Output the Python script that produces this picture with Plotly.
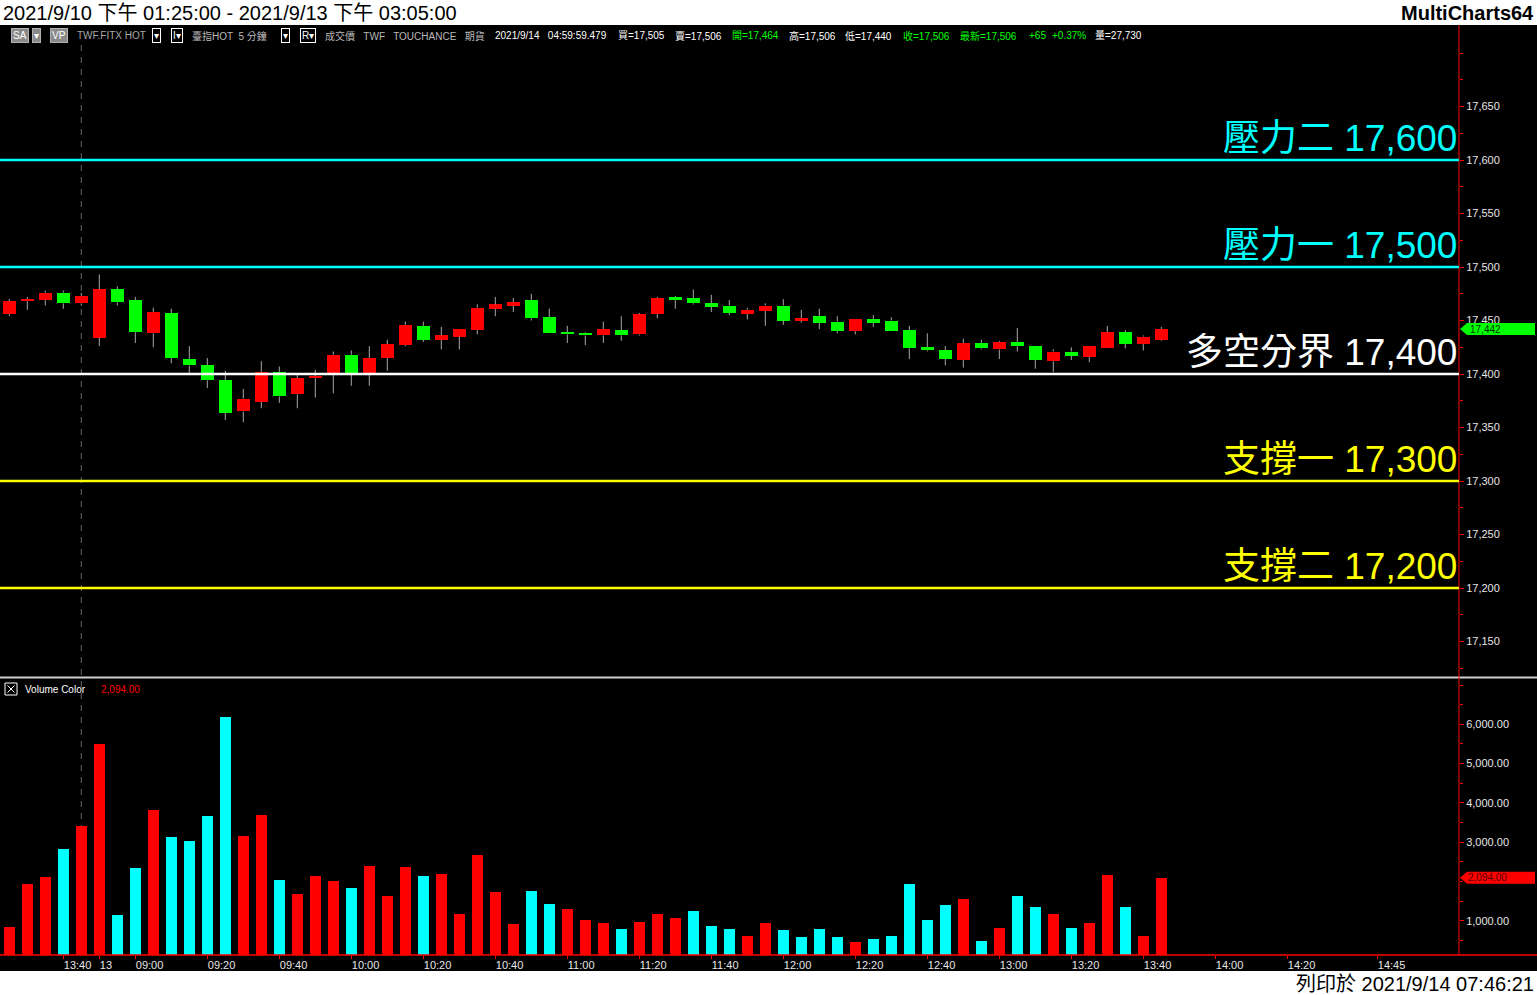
import plotly.graph_objects as go

# ---------------- data ----------------
opens = [17456, 17468, 17469, 17476, 17466, 17434, 17479, 17469, 17438, 17457,
         17414, 17408, 17394, 17365, 17374, 17402, 17381, 17396, 17401, 17418,
         17401, 17415, 17427, 17445, 17432, 17435, 17441, 17461, 17464, 17469,
         17453, 17439, 17438, 17436, 17441, 17437, 17456, 17472, 17471, 17466,
         17464, 17456, 17459, 17464, 17450, 17454, 17449, 17440, 17451, 17450,
         17441, 17425, 17422, 17413, 17429, 17423, 17430, 17426, 17412, 17421,
         17416, 17424, 17439, 17428, 17432]
highs = [17470, 17472, 17478, 17478, 17476, 17493, 17482, 17472, 17462, 17461,
         17426, 17415, 17403, 17386, 17412, 17407, 17399, 17404, 17421, 17422,
         17426, 17432, 17449, 17449, 17444, 17442, 17465, 17472, 17471, 17475,
         17461, 17445, 17439, 17449, 17454, 17457, 17472, 17473, 17479, 17474,
         17469, 17462, 17466, 17470, 17460, 17461, 17454, 17451, 17455, 17453,
         17445, 17438, 17426, 17433, 17432, 17431, 17443, 17426, 17423, 17425,
         17426, 17445, 17441, 17436, 17444]
lows = [17454, 17460, 17464, 17461, 17464, 17426, 17464, 17429, 17425, 17410,
        17401, 17387, 17357, 17355, 17368, 17373, 17368, 17378, 17382, 17389,
        17389, 17403, 17426, 17430, 17423, 17423, 17437, 17454, 17458, 17450,
        17438, 17429, 17427, 17429, 17431, 17436, 17452, 17461, 17465, 17458,
        17455, 17451, 17445, 17446, 17448, 17442, 17438, 17437, 17444, 17440,
        17414, 17421, 17408, 17406, 17423, 17414, 17421, 17405, 17402, 17413,
        17411, 17424, 17424, 17422, 17431]
closes = [17468, 17470, 17476, 17466, 17473, 17479, 17467, 17439, 17458, 17415,
          17408, 17394, 17364, 17377, 17402, 17379, 17396, 17398, 17418, 17401,
          17415, 17428, 17446, 17432, 17436, 17442, 17462, 17465, 17467, 17452,
          17438, 17437, 17436, 17442, 17436, 17456, 17471, 17469, 17466, 17463,
          17457, 17460, 17464, 17450, 17452, 17448, 17440, 17451, 17448, 17440,
          17424, 17422, 17414, 17429, 17424, 17430, 17426, 17413, 17421, 17417,
          17426, 17439, 17428, 17435, 17442]
volumes = [840, 1934, 2113, 2826, 3411, 5499, 1145, 2342, 3818, 3131,
           3029, 3666, 6186, 3156, 3691, 2036, 1680, 2138, 2011, 1833,
           2393, 1629, 2367, 2138, 2189, 1170, 2673, 1731, 916, 1756,
           1425, 1297, 1018, 941, 789, 967, 1170, 1069, 1247, 865,
           789, 611, 941, 763, 585, 789, 585, 458, 534, 611,
           1934, 1018, 1400, 1553, 483, 814, 1629, 1349, 1170, 814,
           941, 2164, 1349, 611, 2094]
volume_dir = ["up", "up", "up", "dn", "up", "up", "dn", "dn", "up", "dn",
              "dn", "dn", "dn", "up", "up", "dn", "up", "up", "up", "dn",
              "up", "up", "up", "dn", "up", "up", "up", "up", "up", "dn",
              "dn", "up", "up", "up", "dn", "up", "up", "up", "dn", "dn",
              "dn", "up", "up", "dn", "dn", "dn", "dn", "up", "dn", "dn",
              "dn", "dn", "dn", "up", "dn", "up", "dn", "dn", "up", "dn",
              "up", "up", "dn", "up", "up"]
session_break_index = 4           # last bar of 2021/9/10

x_tick_index = [3, 5, 7, 11, 15, 19, 23, 27, 31, 35, 39, 43, 47, 51, 55, 59, 63, 67, 71, 76]
x_tick_text = ["13:40", "13", "09:00", "09:20", "09:40", "10:00", "10:20", "10:40", "11:00",
               "11:20", "11:40", "12:00", "12:20", "12:40", "13:00", "13:20", "13:40",
               "14:00", "14:20", "14:45"]

price_ticks = [17150, 17200, 17250, 17300, 17350, 17400, 17450, 17500, 17550, 17600, 17650]
volume_ticks = [1000, 2000, 3000, 4000, 5000, 6000]

level_names = ["壓力二", "壓力一", "多空分界", "支撐一", "支撐二"]
level_values = [17600, 17500, 17400, 17300, 17200]
level_colors = ["#00ffff", "#00ffff", "#ffffff", "#ffff00", "#ffff00"]

title_text = "2021/9/10 下午 01:25:00 - 2021/9/13 下午 03:05:00"
brand_text = "MultiCharts64"
print_text = "列印於 2021/9/14 07:46:21"

# info line: (text, left px, color, style)
info_items = [
    ("SA", 11, "#ffffff", "grey"), ("▾", 32, "#ffffff", "grey"), ("VP", 50, "#ffffff", "grey"),
    ("TWF.FITX HOT", 75, "#a8a8a8", None), ("▾", 152, "#ffffff", "box"), ("I▾", 171, "#ffffff", "box"),
    ("臺指HOT  5 分鐘", 190, "#b8b8b8", None), ("▾", 281, "#ffffff", "box"), ("R▾", 300, "#ffffff", "box"),
    ("成交價   TWF   TOUCHANCE   期貨", 323, "#b8b8b8", None),
    ("2021/9/14   04:59:59.479", 493, "#ffffff", None),
    ("買=17,505", 616, "#ffffff", None), ("賣=17,506", 673, "#ffffff", None),
    ("開=17,464", 730, "#00ff00", None), ("高=17,506", 787, "#ffffff", None),
    ("低=17,440", 843, "#ffffff", None), ("收=17,506", 901, "#00ff00", None),
    ("最新=17,506", 958, "#00ff00", None), ("+65", 1027, "#00ff00", None),
    ("+0.37%", 1050, "#00ff00", None), ("量=27,730", 1093, "#ffffff", None),
]

# ---------------- layout geometry (pixels) ----------------
W, H = 1537, 995
PLOT_R = 1459
TOP, BOT = 27, 955
PRICE_BOT_PX = 677
VOL_TOP_PX = 680
BAR_PX, BAR0_PX = 18.0, 9.3


def px_x(px):
    return px / PLOT_R


def px_y(py):
    return (BOT - py) / (BOT - TOP)


# axis calibration from tick label positions
def price_at(py):
    return 17400 + (374 - py) / 1.07


def vol_at(py):
    return 1000 + (920.7 - py) * 25.46


price_range = [price_at(PRICE_BOT_PX), price_at(TOP)]
vol_range = [vol_at(BOT), vol_at(VOL_TOP_PX)]
x_range = [(0 - BAR0_PX) / BAR_PX, (PLOT_R - BAR0_PX) / BAR_PX]

RED, GREEN, CYAN = "#ff0000", "#00ff00", "#00ffff"
FONT = "Liberation Sans, Arial, Noto Sans CJK TC, sans-serif"

n = len(closes)
xs = list(range(n))

# wicks (upper and lower segments, so bodies are not overlapped)
wx, wy = [], []
for i in xs:
    top = max(opens[i], closes[i])
    bot = min(opens[i], closes[i])
    wx += [i, i, None, i, i, None]
    wy += [highs[i], top, None, bot, lows[i], None]

body_base = [min(o, c) for o, c in zip(opens, closes)]
body_len = [max(abs(c - o), 1.6) for o, c in zip(opens, closes)]
body_col = [RED if c >= o else GREEN for o, c in zip(opens, closes)]
vol_col = [RED if d == "up" else CYAN for d in volume_dir]

last_p = closes[-1]
last_v = volumes[-1]
# the last-volume marker covers the neighbouring tick label (as in the reference)
vol_tick_shown = [t for t in volume_ticks if abs(t - last_v) > 300]

fig = go.Figure()
fig.add_trace(go.Scatter(x=wx, y=wy, mode="lines", line=dict(color="#a8a8a8", width=1),
                         hoverinfo="skip", xaxis="x", yaxis="y"))
fig.add_trace(go.Bar(x=xs, y=body_len, base=body_base, width=0.72,
                     marker=dict(color=body_col, line=dict(width=0)), xaxis="x", yaxis="y"))
fig.add_trace(go.Bar(x=xs, y=volumes, width=0.61,
                     marker=dict(color=vol_col, line=dict(width=0)), xaxis="x2", yaxis="y2"))

axis_font = dict(family=FONT, size=11, color="#e6e6e6")

fig.update_layout(
    width=W, height=H,
    margin=dict(l=0, r=W - PLOT_R, t=TOP, b=H - BOT, pad=0),
    paper_bgcolor="black", plot_bgcolor="black",
    showlegend=False, bargap=0, barmode="overlay",
    xaxis=dict(domain=[0, 1], range=x_range, anchor="y", showticklabels=False,
               showgrid=False, zeroline=False, ticks="", showline=False),
    xaxis2=dict(domain=[0, 1], range=x_range, anchor="y2", matches="x",
                tickmode="array", tickvals=x_tick_index, ticktext=x_tick_text,
                ticks="outside", ticklen=3, tickcolor=RED, tickwidth=1,
                ticklabelposition="outside right", tickfont=axis_font,
                showgrid=False, zeroline=False, showline=False),
    yaxis=dict(domain=[px_y(PRICE_BOT_PX), 1], range=price_range, side="right", anchor="x",
               tickmode="array", tickvals=price_ticks, tickformat=",d",
               ticks="outside", ticklen=4, tickcolor=RED, tickfont=axis_font,
               minor=dict(dtick=25, tick0=17125, ticks="outside", ticklen=3, tickcolor=RED),
               showgrid=False, zeroline=False, showline=False),
    yaxis2=dict(domain=[0, px_y(VOL_TOP_PX)], range=vol_range, side="right", anchor="x2",
                tickmode="array", tickvals=vol_tick_shown, tickformat=",.2f",
                ticks="outside", ticklen=4, tickcolor=RED, tickfont=axis_font,
                minor=dict(dtick=500, tick0=0, ticks="outside", ticklen=3, tickcolor=RED),
                showgrid=False, zeroline=False, showline=False),
)

shapes = []
# session break dashed line
shapes.append(dict(type="line", xref="x", yref="paper", x0=session_break_index, x1=session_break_index,
                   y0=px_y(45), y1=0, line=dict(color="#6a6a6a", width=1, dash="6px,6px"), layer="below"))
# header / footer white bands
shapes.append(dict(type="rect", xref="paper", yref="paper", x0=px_x(0), x1=px_x(W), y0=px_y(0), y1=px_y(25),
                   fillcolor="white", line=dict(width=0), layer="above"))
shapes.append(dict(type="rect", xref="paper", yref="paper", x0=px_x(0), x1=px_x(W), y0=px_y(971), y1=px_y(H),
                   fillcolor="white", line=dict(width=0), layer="above"))
# panel separator
shapes.append(dict(type="line", xref="paper", yref="paper", x0=px_x(0), x1=px_x(W),
                   y0=px_y(677.5), y1=px_y(677.5), line=dict(color="#d0d0d0", width=2), layer="above"))
# right axis line and bottom axis line
shapes.append(dict(type="line", xref="paper", yref="paper", x0=1, x1=1, y0=0, y1=px_y(25),
                   line=dict(color=RED, width=1), layer="above"))
shapes.append(dict(type="line", xref="paper", yref="paper", x0=0, x1=px_x(W), y0=0, y1=0,
                   line=dict(color=RED, width=1.5), layer="above"))
# support / resistance lines
for v, c in zip(level_values, level_colors):
    shapes.append(dict(type="line", xref="paper", yref="y", x0=0, x1=1, y0=v, y1=v,
                       line=dict(color=c, width=2.5), layer="above"))

# last-price marker
hp = 6 / 1.07
xa, xb, xc = px_x(1460), px_x(1467), px_x(1535)
shapes.append(dict(type="path", xref="paper", yref="y",
                   path=f"M {xa},{last_p} L {xb},{last_p + hp} L {xc},{last_p + hp} L {xc},{last_p - hp} L {xb},{last_p - hp} Z",
                   fillcolor=GREEN, line=dict(width=0), layer="above"))
# last-volume marker
hv = 6 * 25.46
shapes.append(dict(type="path", xref="paper", yref="y2",
                   path=f"M {xa},{last_v} L {xb},{last_v + hv} L {xc},{last_v + hv} L {xc},{last_v - hv} L {xb},{last_v - hv} Z",
                   fillcolor=RED, line=dict(width=0), layer="above"))
# volume legend checkbox
shapes.append(dict(type="rect", xref="paper", yref="paper", x0=px_x(5), x1=px_x(17), y0=px_y(683), y1=px_y(695),
                   line=dict(color="white", width=1), fillcolor="black", layer="above"))
shapes.append(dict(type="line", xref="paper", yref="paper", x0=px_x(7.5), x1=px_x(14.5), y0=px_y(685.5), y1=px_y(692.5),
                   line=dict(color="white", width=1), layer="above"))
shapes.append(dict(type="line", xref="paper", yref="paper", x0=px_x(7.5), x1=px_x(14.5), y0=px_y(692.5), y1=px_y(685.5),
                   line=dict(color="white", width=1), layer="above"))

ann = []
ann.append(dict(text=title_text, xref="paper", yref="paper", x=px_x(1), y=px_y(12.5), xanchor="left", yanchor="middle",
                showarrow=False, font=dict(family=FONT, size=20, color="black")))
ann.append(dict(text=f"<b>{brand_text}</b>", xref="paper", yref="paper", x=px_x(1536), y=px_y(12.5), xanchor="right",
                yanchor="middle", showarrow=False, font=dict(family=FONT, size=20, color="black")))
ann.append(dict(text=print_text, xref="paper", yref="paper", x=px_x(1536), y=px_y(984), xanchor="right",
                yanchor="middle", showarrow=False, font=dict(family=FONT, size=20, color="black")))

for txt, x0, col, style in info_items:
    a = dict(text=txt, xref="paper", yref="paper", x=px_x(x0), y=px_y(36), xanchor="left", yanchor="middle",
             showarrow=False, font=dict(family=FONT, size=10, color=col), borderpad=1)
    if style == "grey":
        a.update(bgcolor="#8a8a8a", bordercolor="#b0b0b0", borderwidth=1)
    elif style == "box":
        a.update(bgcolor="black", bordercolor="#ffffff", borderwidth=1)
    ann.append(a)

for name, v, c in zip(level_names, level_values, level_colors):
    ann.append(dict(text=f"{name} {v:,}", xref="paper", yref="y", x=px_x(1458), y=v,
                    xanchor="right", yanchor="bottom", showarrow=False, borderpad=0,
                    font=dict(family=FONT, size=37, color=c)))

ann.append(dict(text=f"{last_p:,}", xref="paper", yref="y", x=px_x(1468), y=last_p, xanchor="left", yanchor="middle",
                showarrow=False, font=dict(family=FONT, size=10, color="#003000")))
ann.append(dict(text=f"{last_v:,.2f}", xref="paper", yref="y2", x=px_x(1466), y=last_v, xanchor="left",
                yanchor="middle", showarrow=False, font=dict(family=FONT, size=10, color="#500000")))
ann.append(dict(text="Volume Color", xref="paper", yref="paper", x=px_x(23), y=px_y(689), xanchor="left",
                yanchor="middle", showarrow=False, font=dict(family=FONT, size=10, color="#ffffff")))
ann.append(dict(text=f"{last_v:,.2f}", xref="paper", yref="paper", x=px_x(99), y=px_y(689), xanchor="left",
                yanchor="middle", showarrow=False, font=dict(family=FONT, size=10, color=RED)))

fig.update_layout(shapes=shapes, annotations=ann)

fig.write_html("out.html", config={"displayModeBar": False},
               post_script="document.body.style.margin='0';document.body.style.overflow='hidden';")
